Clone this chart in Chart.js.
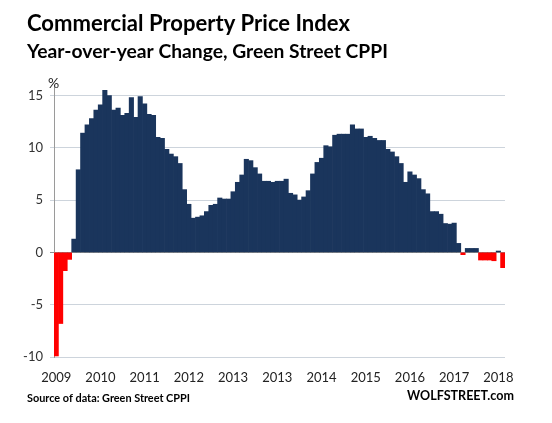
<!DOCTYPE html>
<html><head><meta charset="utf-8">
<script src="https://cdn.jsdelivr.net/npm/chart.js@4/dist/chart.umd.min.js"></script>
<style>html,body{margin:0;padding:0;background:#fff}</style>
</head><body>
<canvas id="c" width="552" height="423"></canvas>
<script>
// ---- data ----
const categories = Array.from({length: 102}, (_, i) => 'P' + (i + 1));
const yoyChange = [
  -9.9, -6.8, -1.75, -0.67, 1.27, 7.9, 11.4, 12.2, 12.8, 13.6,
  14.1, 15.5, 15.0, 13.6, 13.8, 13.1, 13.3, 14.8, 12.9, 14.9,
  14.2, 13.2, 13.1, 11.0, 10.9, 9.85, 9.4, 9.15, 8.5, 6.0,
  4.6, 3.27, 3.37, 3.5, 3.9, 4.5, 4.6, 5.2, 5.1, 5.1,
  5.8, 6.7, 7.4, 8.9, 8.77, 8.1, 7.5, 6.8, 6.8, 6.7,
  6.8, 6.8, 7.0, 5.65, 5.5, 5.0, 5.3, 5.9, 7.5, 8.6,
  9.0, 10.2, 10.1, 11.2, 11.3, 11.3, 11.3, 12.2, 11.8, 11.8,
  11.0, 11.1, 10.9, 10.7, 10.7, 9.85, 9.6, 9.15, 8.5, 6.7,
  7.7, 7.4, 7.05, 6.0, 5.6, 3.9, 3.9, 3.65, 2.76, 2.7,
  2.8, 0.86, -0.22, 0.38, 0.38, 0.38, -0.73, -0.73, -0.73, -0.8,
  0.13, -1.46
];
// one year label every 10 bars
const yearTickLabels = ['2009','2010','2011','2012','2013','2013','2014','2015','2016','2017','2018'];
const labelEvery = 10;
const yTickValues = [-10, -5, 0, 5, 10, 15];

const NAVY = '#1a355c';
const RED = '#ff0000';
const FONT = 'Lato, "Open Sans", "Liberation Sans", sans-serif';

function fitFont(ctx, text, weight, family, targetW) {
  let size = 20;
  ctx.font = weight + ' ' + size + 'px ' + family;
  const w = ctx.measureText(text).width;
  size = size * targetW / w;
  ctx.font = weight + ' ' + size.toFixed(2) + 'px ' + family;
}

const textPlugin = {
  id: 'texts',
  afterDraw(chart) {
    const ctx = chart.ctx;
    ctx.save();
    ctx.fillStyle = '#000';
    ctx.textAlign = 'left';
    ctx.textBaseline = 'alphabetic';
    fitFont(ctx, 'Commercial Property Price Index', 'bold', FONT, 323);
    ctx.fillText('Commercial Property Price Index', 27, 31);
    fitFont(ctx, 'Year-over-year Change, Green Street CPPI', 'bold', FONT, 361);
    ctx.fillText('Year-over-year Change, Green Street CPPI', 27, 58);
    fitFont(ctx, 'Source of data: Green Street CPPI', 'bold', FONT, 163);
    ctx.fillText('Source of data: Green Street CPPI', 27, 402);
    fitFont(ctx, 'WOLFSTREET.com', 'bold', FONT, 107);
    ctx.fillText('WOLFSTREET.com', 407, 400);
    ctx.font = '14px ' + FONT;
    ctx.fillStyle = '#222';
    ctx.fillText('%', 48, 88);
    ctx.restore();
  }
};

new Chart(document.getElementById('c'), {
  type: 'bar',
  data: {
    labels: categories,
    datasets: [{
      data: yoyChange,
      backgroundColor: ctx => (ctx.raw < 0 ? RED : NAVY),
      borderWidth: 0,
      barPercentage: 1,
      categoryPercentage: 1
    }]
  },
  options: {
    responsive: false,
    animation: false,
    devicePixelRatio: 1,
    layout: { padding: { top: 85, left: 0, right: 47, bottom: 26 } },
    plugins: { legend: { display: false }, tooltip: { enabled: false }, title: { display: false } },
    scales: {
      x: {
        type: 'category', offset: true,
        grid: { display: false, drawTicks: false }, border: { display: false },
        afterFit: s => { s.height = 40; },
        ticks: {
          autoSkip: false, maxRotation: 0, minRotation: 0, padding: 13,
          color: '#222', font: { size: 13, family: FONT },
          callback: (v, i) => (i % labelEvery === 0 ? yearTickLabels[i / labelEvery] : '')
        }
      },
      y: {
        min: -10, max: 16,
        afterBuildTicks: s => { s.ticks = yTickValues.map(v => ({ value: v })); },
        afterFit: s => { s.width = 54; },
        grid: {
          drawTicks: true, tickLength: 4,
          color: c => (c.tick && c.tick.value === 0 ? '#8e8e8e' : '#cdd4dc'),
          lineWidth: 1
        },
        border: { display: true, color: '#9a9a9a', width: 1 },
        ticks: { padding: 7, color: '#333', font: { size: 13, family: FONT } }
      }
    }
  },
  plugins: [textPlugin]
});
</script>
</body></html>
